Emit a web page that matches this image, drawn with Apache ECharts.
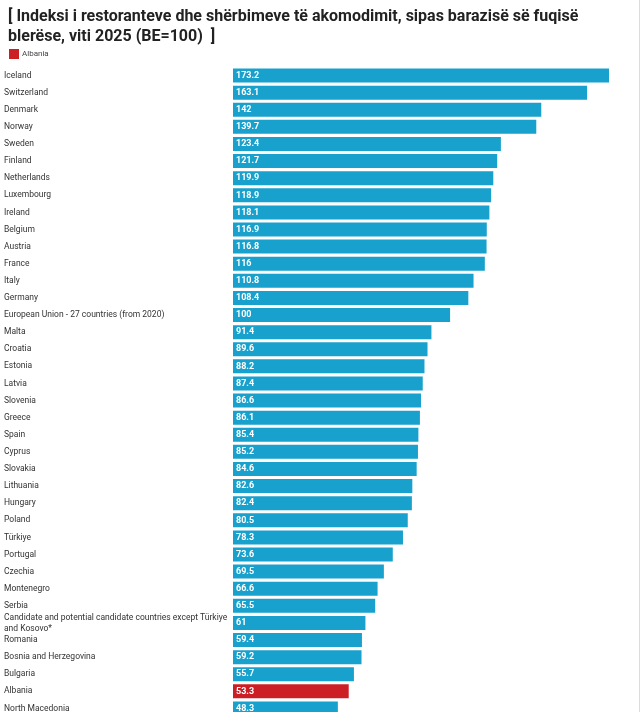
<!DOCTYPE html>
<html>
<head>
<meta charset="utf-8">
<script src="https://cdn.jsdelivr.net/npm/echarts@6/dist/echarts.min.js"></script>
<style>
  html, body { margin: 0; padding: 0; background: #fff; overflow: hidden; }
  #chart { width: 639px; height: 740px; border-right: 1px solid #dcdcdc; }
</style>
</head>
<body>
<div id="chart"></div>
<script>
// vendet, nga lart poshte
const countries = [
    'Iceland', 'Switzerland', 'Denmark', 'Norway', 'Sweden', 'Finland', 'Netherlands',
    'Luxembourg', 'Ireland', 'Belgium', 'Austria', 'France', 'Italy', 'Germany',
    'European Union - 27 countries (from 2020)', 'Malta', 'Croatia', 'Estonia', 'Latvia',
    'Slovenia', 'Greece', 'Spain', 'Cyprus', 'Slovakia', 'Lithuania', 'Hungary', 'Poland',
    'Türkiye', 'Portugal', 'Czechia', 'Montenegro', 'Serbia',
    'Candidate and potential candidate countries except Türkiye and Kosovo*',
    'Romania', 'Bosnia and Herzegovina', 'Bulgaria', 'Albania', 'North Macedonia'
]
const values = [
    173.2, 163.1, 142, 139.7, 123.4, 121.7, 119.9, 118.9, 118.1, 116.9, 116.8, 116,
    110.8, 108.4, 100, 91.4, 89.6, 88.2, 87.4, 86.6, 86.1, 85.4, 85.2, 84.6, 82.6,
    82.4, 80.5, 78.3, 73.6, 69.5, 66.6, 65.5, 61, 59.4, 59.2, 55.7, 53.3, 48.3
]
const highlight = 'Albania'

const blueData = values.map((v, i) => countries[i] === highlight ? null : v)
const redData = values.map((v, i) => countries[i] === highlight ? v : null)

const chart = echarts.init(document.getElementById('chart'))

const barLabel = {
    show: true,
    position: 'insideLeft',
    distance: 3,
    color: '#fff',
    fontFamily: 'Roboto',
    fontWeight: 'bold',
    fontSize: 9
}

chart.setOption({
    animation: false,
    textStyle: { fontFamily: 'Roboto' },
    title: {
        text: '[ Indeksi i restoranteve dhe shërbimeve të akomodimit, sipas barazisë së fuqisë\nblerëse, viti 2025 (BE=100)  ]',
        left: 3,
        top: 2,
        textStyle: {
            fontFamily: 'Roboto',
            fontWeight: 'bold',
            fontSize: 16,
            lineHeight: 20,
            color: '#222'
        }
    },
    legend: {
        data: [highlight],
        left: 4,
        top: 44,
        itemWidth: 10,
        itemHeight: 10,
        itemGap: 6,
        icon: 'rect',
        textStyle: { fontSize: 8, color: '#444', padding: [0, 0, 0, -2] }
    },
    grid: { left: 233, right: 30, top: 67, bottom: 23 },
    xAxis: {
        type: 'value',
        min: 0,
        max: 'dataMax',
        show: false
    },
    yAxis: {
        type: 'category',
        data: countries,
        inverse: true,
        axisLine: { show: false },
        axisTick: { show: false },
        axisLabel: {
            align: 'left',
            margin: 229,
            fontSize: 8.5,
            color: '#333',
            width: 232,
            overflow: 'break',
            lineHeight: 11
        }
    },
    series: [
        {
            name: 'Të tjera',
            type: 'bar',
            stack: 'all',
            data: blueData,
            barWidth: 14,
            itemStyle: { color: '#18a1cd' },
            label: barLabel
        },
        {
            name: highlight,
            type: 'bar',
            stack: 'all',
            data: redData,
            barWidth: 14,
            itemStyle: { color: '#cc1f25' },
            label: barLabel
        }
    ]
})
</script>
</body>
</html>
